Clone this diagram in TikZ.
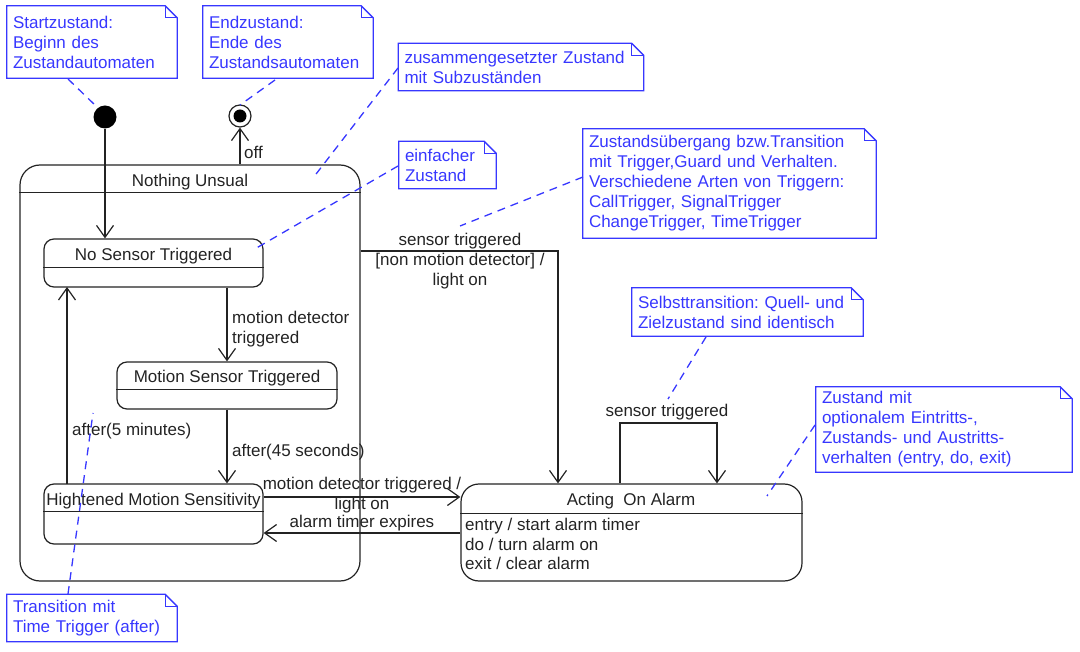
\documentclass[tikz,border=0pt]{standalone}
\usepackage{fontspec}
\setmainfont{Liberation Sans}
\usetikzlibrary{arrows.meta}
\definecolor{noteblue}{RGB}{55,55,255}
\definecolor{ink}{RGB}{35,35,35}
\frenchspacing
\tikzset{
  every node/.style={font=\fontsize{17}{20}\selectfont, inner sep=0pt},
  notebox/.style={minimum width=#1, text width=#1-12pt, inner xsep=6pt, align=left, text=noteblue},
  fold/.style={draw=noteblue, line width=1.3pt},
  notelink/.style={draw=noteblue, line width=1.3pt, dash pattern=on 8pt off 6pt},
  statebox/.style={draw=ink, line width=1.2pt, rounded corners=#1},
  trans/.style={draw=ink, line width=1.2pt, -{Straight Barb[length=12pt,width=17pt,line width=1.2pt]}},
  plainline/.style={draw=ink, line width=1.2pt},
  lbl/.style={text=ink, align=center, yshift=-1.5pt},
}
\begin{document}
\begin{tikzpicture}[x=1pt,y=-1pt]
\useasboundingbox (0,0) rectangle (1080,652);

% ---------- notes ----------
\newcommand\DrawNote[1]{%
  \draw[fold] (#1.north west) -- ([xshift=-12pt]#1.north east) -- ([yshift=-12pt]#1.north east) -- (#1.south east) -- (#1.south west) -- cycle;
  \draw[fold] ([xshift=-12pt]#1.north east) -- ([xshift=-12pt,yshift=-12pt]#1.north east) -- ([yshift=-12pt]#1.north east);}

\node[notebox=170pt, minimum height=72pt] (nstart) at (92,42) {Startzustand:\\Beginn des\\Zustandautomaten};
\DrawNote{nstart}
\node[notebox=170pt, minimum height=72pt] (nend) at (288,42) {Endzustand:\\Ende des\\Zustandsautomaten};
\DrawNote{nend}
\node[notebox=245pt, minimum height=47pt] (ncomp) at (521,67) {zusammengesetzter Zustand\\mit Subzust\"anden};
\DrawNote{ncomp}
\node[notebox=97pt, minimum height=47pt] (nsimple) at (447.5,165) {einfacher\\Zustand};
\DrawNote{nsimple}
\node[notebox=293pt, minimum height=109pt] (ntrans) at (729.5,183.5) {Zustands\"ubergang bzw.Transition\\mit Trigger,Guard und Verhalten.\\Verschiedene Arten von Triggern:\\CallTrigger, SignalTrigger\\ChangeTrigger, TimeTrigger};
\DrawNote{ntrans}
\node[notebox=231pt, minimum height=48pt] (nself) at (747.5,312) {Selbsttransition: Quell- und\\Zielzustand sind identisch};
\DrawNote{nself}
\node[notebox=256pt, minimum height=85pt] (nact) at (944,429.5) {Zustand mit\\optionalem Eintritts-,\\Zustands- und Austritts-\\verhalten (entry, do, exit)};
\DrawNote{nact}
\node[notebox=170pt, minimum height=47pt] (ntime) at (92,618) {Transition mit\\Time Trigger (after)};
\DrawNote{ntime}

% ---------- pseudo states ----------
\node[circle, fill=black, minimum size=23pt] (init) at (105,117) {};
\node[circle, draw=ink, line width=1.2pt, minimum size=22pt] (fin) at (240,116) {};
\node[circle, fill=black, minimum size=13pt] (fincore) at (240,116) {};

% ---------- states ----------
\node[statebox=20pt, minimum width=340pt, minimum height=416pt] (nu) at (190,373) {};
\draw[plainline] ([yshift=-28pt]nu.north west) -- ([yshift=-28pt]nu.north east);
\node[lbl] (nut) at (190,181) {Nothing Unsual};

\node[statebox=10pt, minimum width=219pt, minimum height=48pt] (nst) at (153.5,263) {};
\draw[plainline] ([yshift=-29pt]nst.north west) -- ([yshift=-29pt]nst.north east);
\node[lbl] (nstt) at (153.5,255) {No Sensor Triggered};

\node[statebox=10pt, minimum width=220pt, minimum height=47pt] (mst) at (227,385.5) {};
\draw[plainline] ([yshift=-28pt]mst.north west) -- ([yshift=-28pt]mst.north east);
\node[lbl] (mstt) at (227,377) {Motion Sensor Triggered};

\node[statebox=10pt, minimum width=219pt, minimum height=60pt] (hms) at (153.5,514) {};
\draw[plainline] ([yshift=-28pt]hms.north west) -- ([yshift=-28pt]hms.north east);
\node[lbl] (hmst) at (153.5,500) {Hightened Motion Sensitivity};

\node[statebox=18pt, minimum width=341pt, minimum height=97pt] (aoa) at (631.5,532.5) {};
\draw[plainline] ([yshift=-30pt]aoa.north west) -- ([yshift=-30pt]aoa.north east);
\node[lbl] (aoat) at (631,500) {Acting\ \ On Alarm};
\node[text=ink, align=left, anchor=north west, font=\fontsize{17}{19.5}\selectfont] (aoab) at (465,518) {entry / start alarm timer\\do / turn alarm on\\exit / clear alarm};

% ---------- transitions ----------
\draw[trans] (init.south) -- (init.south |- nst.north);
\draw[trans] (fin.south |- nu.north) -- (fin.south);
\node[lbl, anchor=west] (loff) at (244,151) {off};

\draw[trans] (mst.north |- nst.south) -- (mst.north);
\node[lbl, anchor=west, align=left] (lmd) at (232,328) {motion detector\\triggered};

\draw[trans] (mst.south) -- (mst.south |- hms.north);
\node[lbl, anchor=west] (l45) at (232,451) {after(45 seconds)};

\coordinate (c5a) at (67,484);
\coordinate (c5b) at (67,287);
\draw[trans] (c5a) -- (c5b);
\node[lbl, anchor=west] (l5) at (72,430) {after(5 minutes)};

\draw[trans] (hms.east |- 0,497) -- (aoa.west |- 0,497);
\node[lbl] (lmdt) at (362,494) {motion detector triggered /\\light on};

\draw[trans] (aoa.west |- 0,533) -- (hms.east |- 0,533);
\node[lbl] (late) at (362,522) {alarm timer expires};

\coordinate (cst) at (558,251);
\draw[trans] (nu.east |- cst) -- (cst) -- (cst |- aoa.north);
\node[lbl] (lst) at (460,260) {sensor triggered\\{}[non motion detector] /\\light on};

\coordinate (cs1) at (620,423);
\coordinate (cs2) at (717,423);
\draw[trans] (cs1 |- aoa.north) -- (cs1) -- (cs2) -- (cs2 |- aoa.north);
\node[lbl] (lself) at (667,411) {sensor triggered};

% ---------- note links ----------
\coordinate (a1) at (68,79);   \coordinate (b1) at (96,106);
\coordinate (a2) at (275,80);  \coordinate (b2) at (240,105);
\coordinate (a3) at (398,68);  \coordinate (b3) at (313,178);
\coordinate (a4) at (398,166); \coordinate (b4) at (253,250);
\coordinate (a5) at (583,177); \coordinate (b5) at (460,226);
\coordinate (a6) at (706,337); \coordinate (b6) at (668,399);
\coordinate (a7) at (815,425); \coordinate (b7) at (767,496);
\coordinate (a8) at (68,594);  \coordinate (b8) at (93,413);
\foreach \i in {1,...,8} {\draw[notelink] (a\i) -- (b\i);}
\end{tikzpicture}
\end{document}
